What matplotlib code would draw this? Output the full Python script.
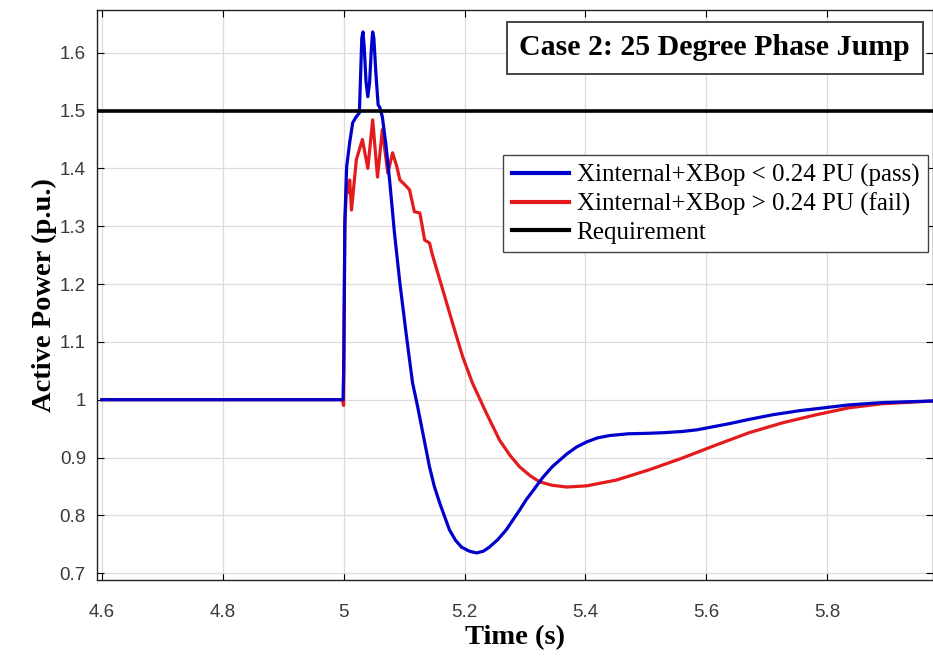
import matplotlib
matplotlib.use("Agg")
import matplotlib.pyplot as plt

# blue: Xinternal+XBop < 0.24 PU (pass)
t_pass = [4.6, 4.999, 5.0, 5.002, 5.005, 5.010, 5.015, 5.020, 5.026, 5.028, 5.030, 5.032,
          5.034, 5.037, 5.040, 5.043, 5.046, 5.048, 5.050, 5.053, 5.057, 5.060, 5.064,
          5.070, 5.076, 5.084, 5.093, 5.104, 5.114, 5.122, 5.129, 5.142, 5.150, 5.159,
          5.175, 5.185, 5.195, 5.208, 5.220, 5.231, 5.241, 5.255, 5.269, 5.291, 5.302,
          5.315, 5.329, 5.345, 5.369, 5.385, 5.402, 5.420, 5.440, 5.470, 5.506, 5.530,
          5.560, 5.585, 5.610, 5.640, 5.671, 5.710, 5.754, 5.795, 5.836, 5.891, 5.98]
p_pass = [1.0, 1.0, 1.05, 1.311, 1.403, 1.445, 1.479, 1.488, 1.496, 1.56, 1.625, 1.636,
          1.61, 1.55, 1.524, 1.55, 1.61, 1.636, 1.625, 1.57, 1.51, 1.505, 1.489,
          1.44, 1.380, 1.289, 1.202, 1.109, 1.029, 0.99, 0.953, 0.884, 0.850, 0.821,
          0.775, 0.757, 0.745, 0.738, 0.735, 0.738, 0.745, 0.758, 0.775, 0.809, 0.827,
          0.845, 0.865, 0.884, 0.906, 0.918, 0.927, 0.934, 0.938, 0.941, 0.942, 0.943,
          0.945, 0.948, 0.953, 0.959, 0.966, 0.974, 0.981, 0.986, 0.991, 0.995, 0.998]

# red: Xinternal+XBop > 0.24 PU (fail)
t_fail = [4.6, 4.998, 5.0, 5.002, 5.005, 5.008, 5.010, 5.013, 5.021, 5.031, 5.040, 5.048,
          5.056, 5.064, 5.073, 5.081, 5.088, 5.093, 5.101, 5.109, 5.117, 5.126, 5.130,
          5.134, 5.142, 5.147, 5.154, 5.164, 5.180, 5.197, 5.213, 5.236, 5.258, 5.275,
          5.291, 5.308, 5.324, 5.345, 5.369, 5.402, 5.451, 5.506, 5.560, 5.617, 5.671,
          5.726, 5.782, 5.836, 5.891, 5.98]
p_fail = [1.0, 1.0, 0.99, 1.30, 1.375, 1.358, 1.38, 1.328, 1.415, 1.45, 1.40, 1.484,
          1.385, 1.467, 1.392, 1.427, 1.403, 1.38, 1.372, 1.363, 1.325, 1.323, 1.30,
          1.276, 1.271, 1.25, 1.225, 1.190, 1.133, 1.074, 1.029, 0.977, 0.930, 0.904,
          0.884, 0.869, 0.858, 0.852, 0.849, 0.851, 0.861, 0.879, 0.899, 0.922, 0.943,
          0.960, 0.974, 0.986, 0.993, 0.998]

requirement = 1.5

x_ticks = [4.6, 4.8, 5.0, 5.2, 5.4, 5.6, 5.8]
x_ticklabels = ["4.6", "4.8", "5", "5.2", "5.4", "5.6", "5.8"]
y_ticks = [0.7, 0.8, 0.9, 1.0, 1.1, 1.2, 1.3, 1.4, 1.5, 1.6]
y_ticklabels = ["0.7", "0.8", "0.9", "1", "1.1", "1.2", "1.3", "1.4", "1.5", "1.6"]

serif = "Liberation Serif"

fig = plt.figure(figsize=(9.33, 6.63), dpi=100)
ax = fig.add_axes([0.104, 0.125, 0.896, 0.86])

ax.plot(t_pass, p_pass, color="#0000cc", lw=2.3, label="Xinternal+XBop < 0.24 PU (pass)", zorder=3)
ax.plot(t_fail, p_fail, color="#e41a1c", lw=2.3, label="Xinternal+XBop > 0.24 PU (fail)", zorder=2)
ax.axhline(requirement, color="black", lw=2.6, label="Requirement", zorder=4)

ax.set_xlim(4.592, 5.975)
ax.set_ylim(0.688, 1.674)
ax.set_xticks(x_ticks)
ax.set_xticklabels(x_ticklabels)
ax.set_yticks(y_ticks)
ax.set_yticklabels(y_ticklabels)
ax.tick_params(direction="in", top=True, right=True, labelsize=13.5, labelcolor="#3a3a3a",
               length=5, width=0.8)
ax.tick_params(axis="x", pad=17)
ax.tick_params(axis="y", pad=8)
for lab in ax.get_xticklabels() + ax.get_yticklabels():
    lab.set_fontfamily("Liberation Sans")
ax.grid(True, color="#dcdcdc", lw=0.9)
ax.set_axisbelow(True)
for s in ax.spines.values():
    s.set_color("#222222")
    s.set_linewidth(1.0)

ax.set_xlabel("Time (s)", fontfamily=serif, fontweight="bold", fontsize=20.5, labelpad=3)
ax.set_ylabel("Active Power (p.u.)", fontfamily=serif, fontweight="bold", fontsize=20.5, labelpad=2)

leg = ax.legend(loc="upper right", bbox_to_anchor=(0.994, 0.7456), prop={"family": serif, "size": 18},
                frameon=True, fancybox=False, edgecolor="#444444", framealpha=1,
                handlelength=2.3, handletextpad=0.3, borderpad=0.35, labelspacing=0.22,
                borderaxespad=0)
leg.get_frame().set_linewidth(1.0)
for h in leg.get_lines():
    h.set_linewidth(3.0)

ax.text(0.739, 0.934, "Case 2: 25 Degree Phase Jump", transform=ax.transAxes,
        ha="center", va="center", fontfamily=serif, fontweight="bold", fontsize=21.5,
        bbox=dict(boxstyle="square,pad=0.42", fc="white", ec="#444444", lw=1.4), zorder=5)

fig.savefig("out.png", dpi=100)
